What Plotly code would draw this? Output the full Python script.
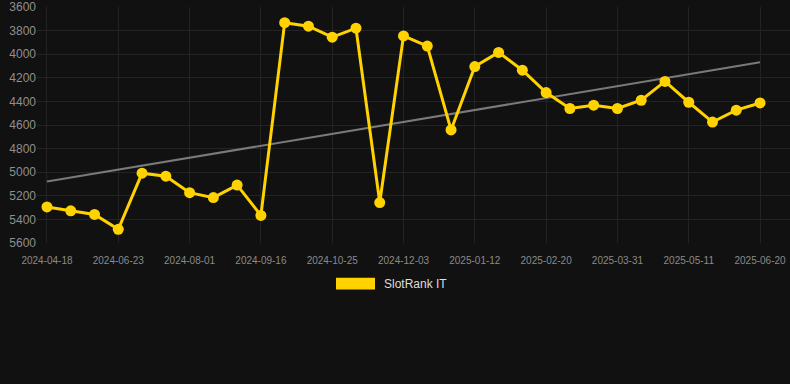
import plotly.graph_objects as go

dates = [
    "2024-04-18", "2024-05-09", "2024-06-01", "2024-06-23", "2024-07-06", "2024-07-19",
    "2024-08-01", "2024-08-16", "2024-08-31", "2024-09-16", "2024-09-29", "2024-10-12",
    "2024-10-25", "2024-11-07", "2024-11-20", "2024-12-03", "2024-12-16", "2024-12-29",
    "2025-01-12", "2025-01-25", "2025-02-07", "2025-02-20", "2025-03-05", "2025-03-18",
    "2025-03-31", "2025-04-13", "2025-04-27", "2025-05-11", "2025-05-24", "2025-06-07",
    "2025-06-20",
]
rank = [
    5295, 5328, 5359, 5485, 5009, 5034, 5174, 5216, 5110, 5367,
    3732, 3762, 3855, 3779, 5258, 3844, 3930, 4642, 4104, 3984,
    4135, 4325, 4460, 4432, 4460, 4390, 4230, 4407, 4575, 4474,
    4413,
]
trend_dates = [dates[0], dates[-1]]
trend_values = [5080, 4068]
tick_dates = dates[::3]
y_ticks = [3600, 3800, 4000, 4200, 4400, 4600, 4800, 5000, 5200, 5400, 5600]
series_name = "SlotRank IT"

gold = "#FFD200"
bg = "#111111"
grid = "#232323"

fig = go.Figure()
fig.add_trace(go.Scatter(
    x=trend_dates, y=trend_values, mode="lines",
    line=dict(color="#7a7a7a", width=2), showlegend=False, hoverinfo="skip",
))
fig.add_trace(go.Scatter(
    x=dates, y=rank, mode="lines+markers", name=series_name,
    line=dict(color=gold, width=3),
    marker=dict(color=gold, size=11),
    showlegend=False,
))

L, T, B = 37, 5, 141
W, H = 790, 384
pw = W - L
ph = H - T - B

def px(x):
    return (x - L) / pw

def py(y):
    return (H - B - y) / ph

fig.add_shape(type="rect", xref="paper", yref="paper",
              x0=px(336), x1=px(375), y0=py(290), y1=py(278),
              fillcolor=gold, line=dict(width=0))
fig.add_annotation(xref="paper", yref="paper", x=px(382), y=py(284.5),
                   xanchor="left", yanchor="middle", showarrow=False,
                   text=series_name, font=dict(color="#dddddd", size=12,
                                               family="Liberation Sans, Arial, sans-serif"))

fig.update_layout(
    width=W, height=H,
    margin=dict(l=L, r=0, t=T, b=B),
    paper_bgcolor=bg, plot_bgcolor=bg,
    font=dict(family="Liberation Sans, Arial, sans-serif"),
    showlegend=False,
)
fig.update_xaxes(
    type="category", categoryorder="array", categoryarray=dates,
    range=[-0.42, 31.26],
    tickmode="array", tickvals=tick_dates, ticktext=tick_dates,
    showgrid=True, gridcolor=grid, gridwidth=1,
    zeroline=False, showline=False, ticks="",
    ticklabelstandoff=10, ticklabeloverflow="allow",
    tickfont=dict(color="#8a8a8a", size=10),
)
fig.update_yaxes(
    autorange=False, range=[5601, 3599],
    tickmode="array", tickvals=y_ticks,
    showgrid=True, gridcolor=grid, gridwidth=1,
    zeroline=False, showline=False, ticks="",
    ticklabeloverflow="allow",
    tickfont=dict(color="#8f8f8f", size=12),
)

fig.write_html("out.html")
